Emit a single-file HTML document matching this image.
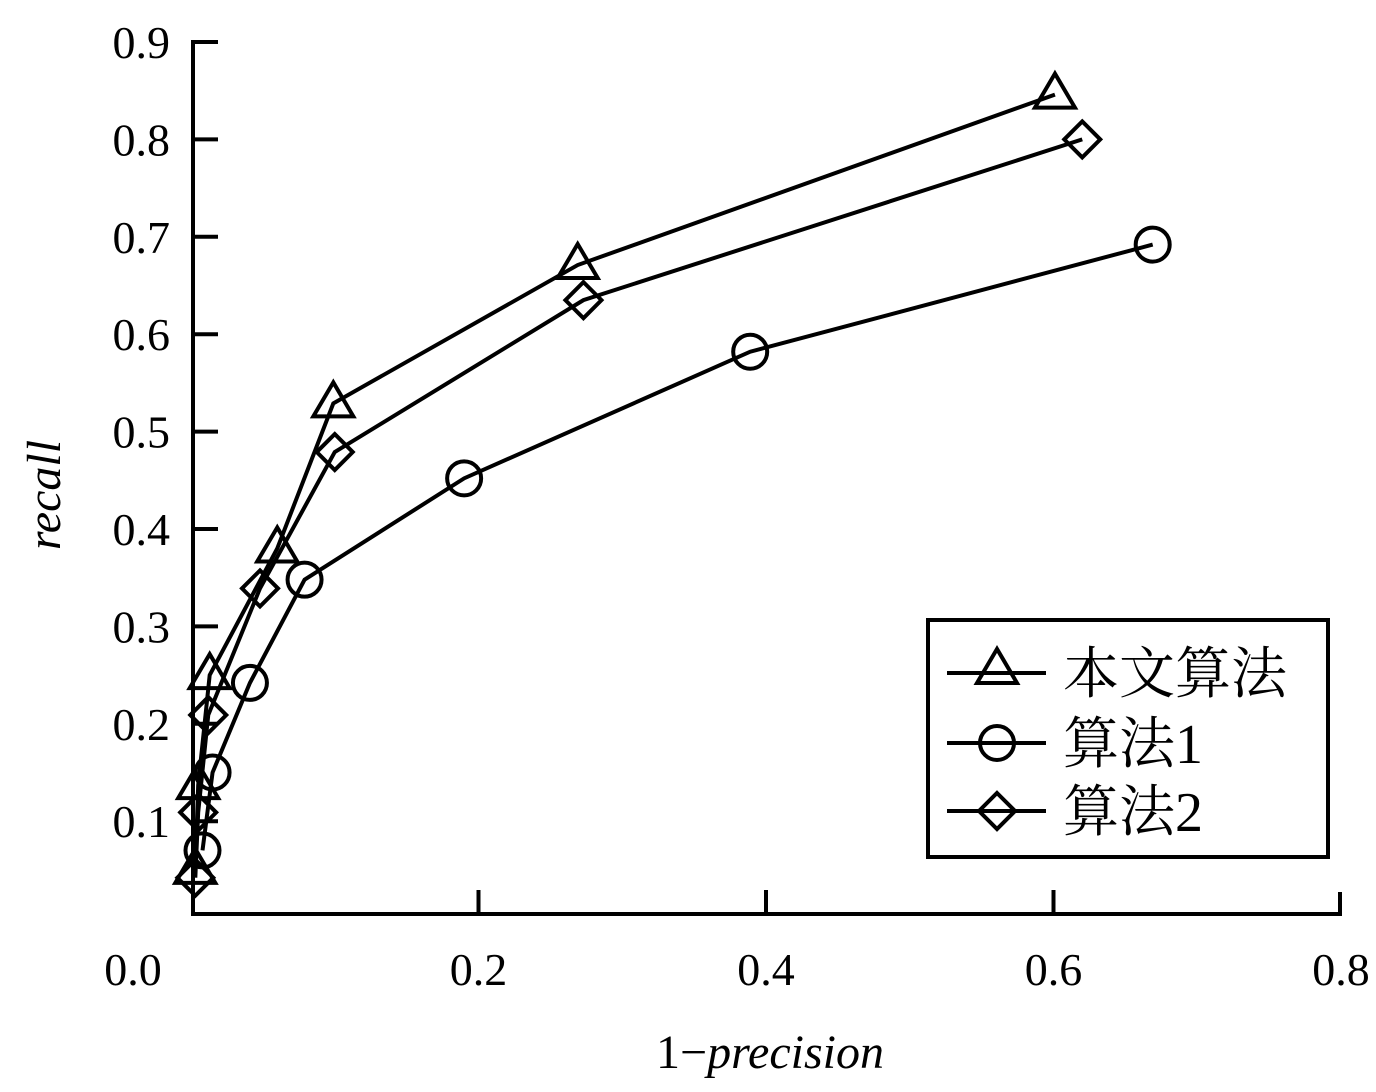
<!DOCTYPE html>
<html><head><meta charset="utf-8"><style>
body{margin:0;background:#fff}
svg text{font-family:"Liberation Serif","Noto Serif CJK SC",serif;fill:#000}
</style></head><body>
<svg id="chart" width="1376" height="1087" viewBox="0 0 1376 1087" xmlns="http://www.w3.org/2000/svg">
<g id="plot"></g>
<g id="axes"></g>
<g id="legend"></g>
</svg>
<script>
const xTicks=[0.0,0.2,0.4,0.6,0.8];
const yTicks=[0.1,0.2,0.3,0.4,0.5,0.6,0.7,0.8,0.9];
const seriesNames=["本文算法","算法1","算法2"];
const oursX=[0.003,0.005,0.013,0.060,0.099,0.269,0.601];
const oursY=[0.05,0.137,0.25,0.380,0.529,0.671,0.846];
const alg1X=[0.008,0.015,0.041,0.079,0.190,0.389,0.669];
const alg1Y=[0.070,0.150,0.242,0.348,0.452,0.582,0.692];
const alg2X=[0.003,0.005,0.012,0.048,0.100,0.273,0.620];
const alg2Y=[0.042,0.109,0.209,0.339,0.479,0.635,0.800];
const NS="http://www.w3.org/2000/svg";
const X0=191,XS=1437.5,Y9=42,YS=974;
const xs=v=>X0+v*XS, ys=v=>Y9+(0.9-v)*YS;
function mk(tag,attrs,parent){const e=document.createElementNS(NS,tag);for(const k in attrs)e.setAttribute(k,attrs[k]);parent.appendChild(e);return e;}
const plot=document.getElementById('plot'),axes=document.getElementById('axes'),legend=document.getElementById('legend');
function marker(type,cx,cy,parent){
  let e;
  if(type==='tri'){e=mk('polygon',{points:`${cx},${cy-21} ${cx-20},${cy+13} ${cx+20},${cy+13}`,fill:'none',stroke:'#000','stroke-width':4},parent);}
  else if(type==='circ'){e=mk('circle',{cx:cx,cy:cy,r:17,fill:'none',stroke:'#000','stroke-width':4},parent);}
  else {e=mk('polygon',{points:`${cx},${cy-18} ${cx+18},${cy} ${cx},${cy+18} ${cx-18},${cy}`,fill:'none',stroke:'#000','stroke-width':4},parent);}
  return e;
}
const series=[[oursX,oursY,'tri','series-ours'],[alg1X,alg1Y,'circ','series-alg1'],[alg2X,alg2Y,'dia','series-alg2']];
series.forEach(([X,Y,t,n])=>{
  const g=mk('g',{},plot);
  
  
  const pl=mk('polyline',{points:X.map((v,i)=>xs(v)+','+ys(Y[i])).join(' '),fill:'none',stroke:'#000','stroke-width':4},g);
  
  
  X.forEach((v,i)=>{const m=marker(t,xs(v),ys(Y[i]),g);
    
    });
});
// axes
const ax=mk('path',{d:'M193,40 L193,914 L1340,914 L1340,892',fill:'none',stroke:'#000','stroke-width':4},axes);


yTicks.forEach(v=>{const y=ys(v);
  const t=mk('line',{x1:193,x2:218,y1:y,y2:y,stroke:'#000','stroke-width':4},axes);
  
  
  const l=mk('text',{x:170,y:y+16,'text-anchor':'end','font-size':46},axes);l.textContent=v.toFixed(1);
  
  
});
xTicks.forEach((v,i)=>{const x=i===0?193:xs(v);
  if(i>0&&i<xTicks.length-1){const t=mk('line',{x1:x,x2:x,y1:914,y2:890,stroke:'#000','stroke-width':4},axes);
  
  }
  const l=mk('text',{x:i===0?133:x,y:985,'text-anchor':'middle','font-size':46},axes);l.textContent=v.toFixed(1);
  
  
});
const xt=mk('text',{x:770,y:1068,'text-anchor':'middle','font-size':48},axes);
xt.innerHTML='1&#8722;<tspan font-style="italic">precision</tspan>';


const yt=mk('text',{x:0,y:0,'text-anchor':'middle','font-size':48,'font-style':'italic',transform:'translate(60,495) rotate(-90)'},axes);
yt.textContent='recall';


// legend
const box=mk('rect',{x:928,y:620,width:400,height:237,fill:'#fff',stroke:'#000','stroke-width':4},legend);


const ly=[673,743,811],lt=['tri','circ','dia'];
seriesNames.forEach((s,i)=>{
  const g=mk('g',{},legend);
  
  
  mk('line',{x1:947,x2:1046,y1:ly[i],y2:ly[i],stroke:'#000','stroke-width':4},g);
  if(lt[i]==='tri')marker('tri',997,ly[i]-3,g);else marker(lt[i],997,ly[i],g);
  const t=mk('text',{x:1063,y:ly[i]+20,'font-size':56},g);t.textContent=s;
});
</script>
</body></html>
